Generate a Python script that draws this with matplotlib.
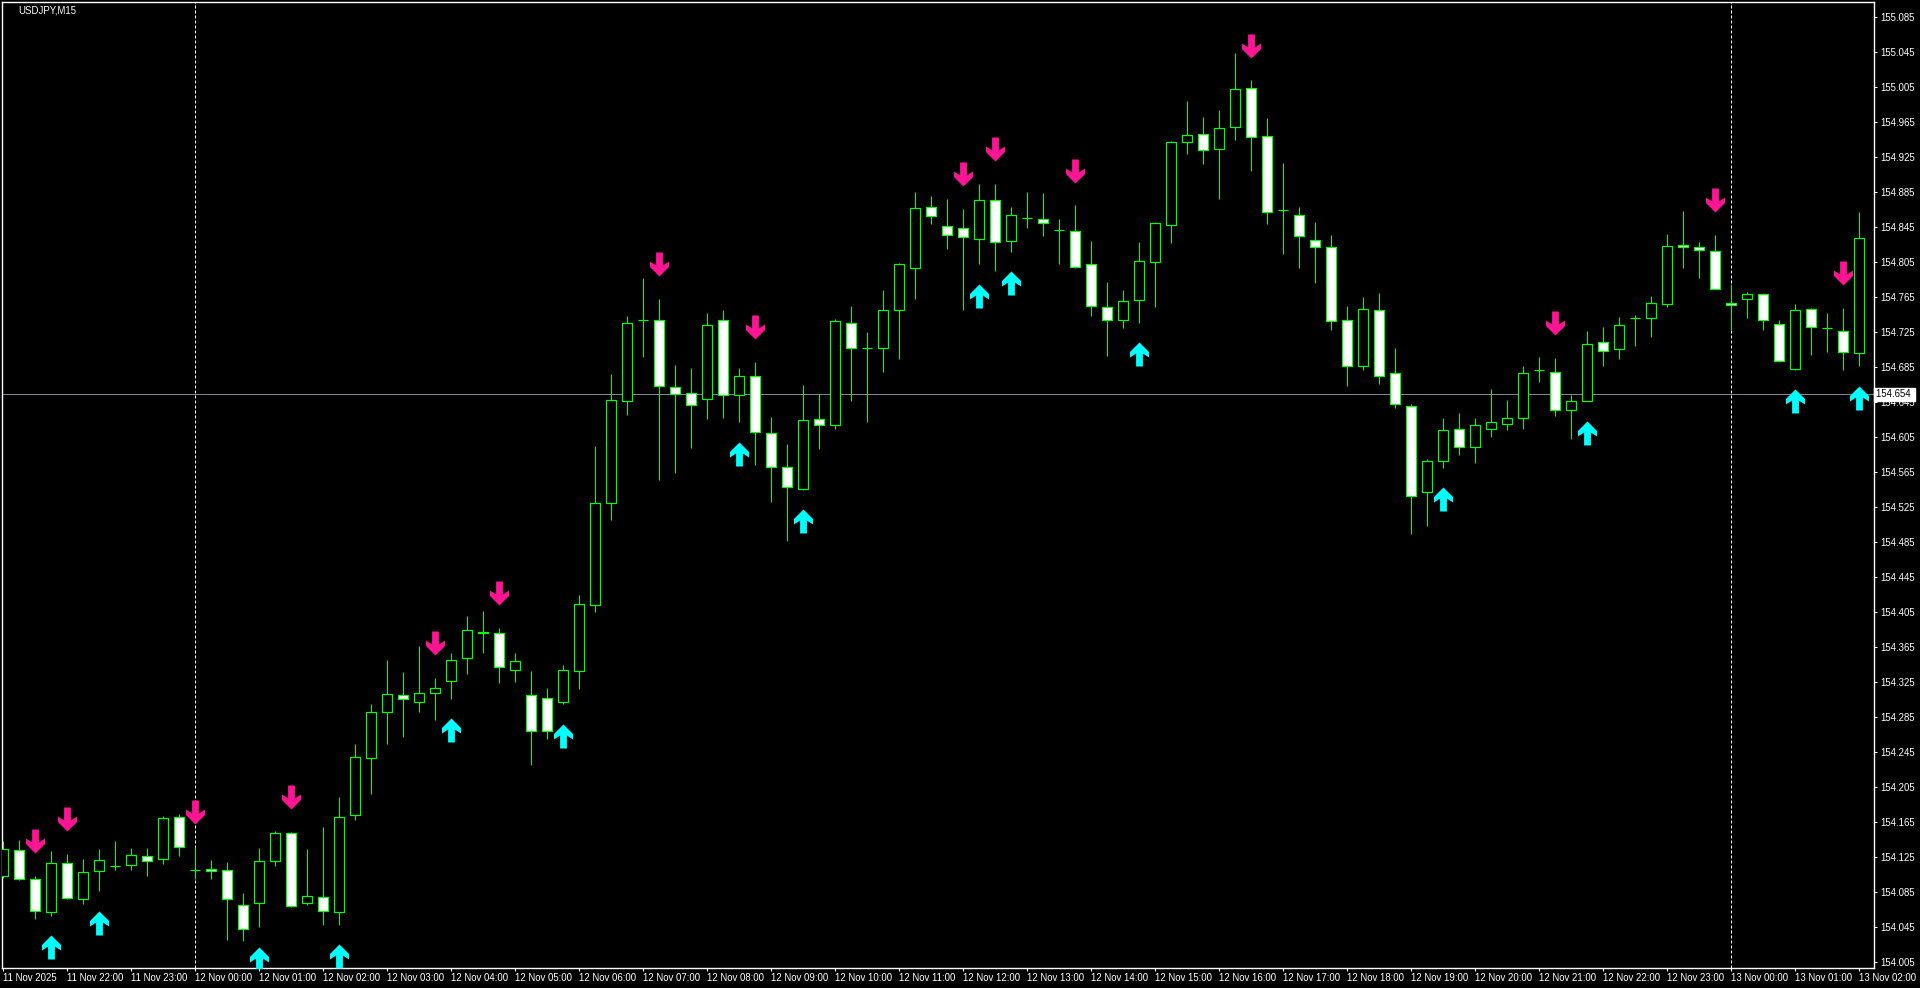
#!/usr/bin/python

from matplotlib import pyplot as plt
from matplotlib.path import Path
from matplotlib.transforms import ScaledTranslation, blended_transform_factory
import numpy as np
import pandas as pd

symbol = 'USDJPY,M15'
first_bar = '2025-11-11 21:00'
bid_price = 154.654

opens = [
  154.104, 154.133, 154.100, 154.063, 154.118, 154.077, 154.109, 154.115, 154.116, 154.127,
  154.123, 154.171, 154.111, 154.112, 154.111, 154.070, 154.073, 154.121, 154.153, 154.073,
  154.080, 154.063, 154.173, 154.239, 154.291, 154.310, 154.303, 154.313, 154.327, 154.353,
  154.383, 154.381, 154.339, 154.311, 154.307, 154.303, 154.338, 154.413, 154.530, 154.647,
  154.739, 154.739, 154.663, 154.656, 154.649, 154.739, 154.653, 154.675, 154.610, 154.571,
  154.546, 154.626, 154.619, 154.736, 154.707, 154.707, 154.750, 154.798, 154.868, 154.846,
  154.844, 154.832, 154.876, 154.829, 154.856, 154.855, 154.842, 154.841, 154.803, 154.754,
  154.739, 154.762, 154.805, 154.848, 154.942, 154.952, 154.935, 154.960, 155.004, 154.949,
  154.865, 154.859, 154.830, 154.823, 154.739, 154.687, 154.750, 154.678, 154.641, 154.542,
  154.578, 154.614, 154.594, 154.614, 154.620, 154.627, 154.682, 154.680, 154.636, 154.647,
  154.714, 154.706, 154.741, 154.741, 154.757, 154.825, 154.822, 154.818, 154.758, 154.763,
  154.769, 154.735, 154.683, 154.752, 154.730, 154.727, 154.701,
]
highs = [
  154.144, 154.145, 154.104, 154.132, 154.129, 154.123, 154.135, 154.144, 154.136, 154.136,
  154.172, 154.174, 154.137, 154.122, 154.120, 154.084, 154.136, 154.155, 154.154, 154.135,
  154.160, 154.194, 154.255, 154.300, 154.351, 154.337, 154.366, 154.330, 154.359, 154.401,
  154.406, 154.387, 154.359, 154.338, 154.318, 154.345, 154.425, 154.595, 154.677, 154.744,
  154.787, 154.763, 154.688, 154.684, 154.747, 154.750, 154.684, 154.691, 154.628, 154.597,
  154.665, 154.654, 154.740, 154.755, 154.725, 154.773, 154.804, 154.885, 154.881, 154.877,
  154.866, 154.894, 154.895, 154.868, 154.885, 154.884, 154.855, 154.870, 154.829, 154.783,
  154.773, 154.828, 154.851, 154.944, 154.989, 154.971, 154.979, 155.044, 155.013, 154.970,
  154.919, 154.868, 154.851, 154.836, 154.755, 154.765, 154.770, 154.707, 154.643, 154.580,
  154.627, 154.633, 154.627, 154.660, 154.648, 154.686, 154.697, 154.696, 154.653, 154.726,
  154.731, 154.742, 154.745, 154.767, 154.837, 154.864, 154.828, 154.836, 154.780, 154.771,
  154.770, 154.739, 154.757, 154.753, 154.747, 154.753, 154.862,
]
lows = [
  154.101, 154.099, 154.055, 154.058, 154.077, 154.072, 154.086, 154.111, 154.111, 154.104,
  154.117, 154.126, 154.100, 154.100, 154.030, 154.029, 154.045, 154.115, 154.068, 154.070,
  154.048, 154.048, 154.168, 154.197, 154.254, 154.263, 154.291, 154.282, 154.306, 154.335,
  154.358, 154.324, 154.325, 154.230, 154.260, 154.300, 154.317, 154.405, 154.511, 154.630,
  154.697, 154.556, 154.564, 154.593, 154.626, 154.627, 154.622, 154.573, 154.531, 154.487,
  154.545, 154.592, 154.615, 154.646, 154.623, 154.680, 154.695, 154.763, 154.849, 154.820,
  154.750, 154.803, 154.795, 154.817, 154.844, 154.835, 154.803, 154.799, 154.744, 154.698,
  154.730, 154.736, 154.754, 154.827, 154.929, 154.917, 154.877, 154.945, 154.909, 154.849,
  154.814, 154.799, 154.781, 154.728, 154.664, 154.682, 154.666, 154.639, 154.495, 154.504,
  154.570, 154.585, 154.576, 154.605, 154.613, 154.615, 154.668, 154.629, 154.603, 154.646,
  154.687, 154.694, 154.709, 154.720, 154.754, 154.799, 154.787, 154.774, 154.728, 154.741,
  154.728, 154.691, 154.682, 154.699, 154.703, 154.682, 154.686,
]
closes = [
  154.135, 154.100, 154.064, 154.119, 154.078, 154.108, 154.122, 154.115, 154.128, 154.121,
  154.170, 154.137, 154.111, 154.109, 154.077, 154.043, 154.121, 154.153, 154.069, 154.081,
  154.064, 154.171, 154.240, 154.291, 154.312, 154.306, 154.313, 154.319, 154.351, 154.385,
  154.381, 154.342, 154.349, 154.269, 154.269, 154.339, 154.415, 154.530, 154.648, 154.736,
  154.739, 154.664, 154.655, 154.642, 154.733, 154.653, 154.675, 154.611, 154.571, 154.548,
  154.625, 154.619, 154.738, 154.707, 154.707, 154.750, 154.803, 154.867, 154.858, 154.836,
  154.834, 154.876, 154.828, 154.859, 154.856, 154.850, 154.842, 154.800, 154.755, 154.739,
  154.761, 154.806, 154.850, 154.943, 154.951, 154.933, 154.958, 155.003, 154.948, 154.863,
  154.865, 154.835, 154.822, 154.738, 154.686, 154.752, 154.675, 154.643, 154.538, 154.578,
  154.613, 154.594, 154.619, 154.622, 154.627, 154.679, 154.682, 154.636, 154.646, 154.712,
  154.704, 154.733, 154.741, 154.758, 154.824, 154.822, 154.819, 154.774, 154.756, 154.769,
  154.739, 154.692, 154.751, 154.731, 154.730, 154.703, 154.833,
]

# bars marked by the signal indicator
sell_bars = [2, 4, 12, 18, 27, 31, 41, 47, 60, 62, 67, 78, 97, 107, 115]
buy_bars = [3, 6, 16, 21, 28, 35, 46, 50, 61, 63, 71, 90, 99, 112, 116]

LIME = '#00ff00'
PX = 0.72  # one pixel in points at 100 dpi

up_verts = [(0, 12), (9.5, 2.5), (9.5, -3), (3.4, 1), (3.4, -12),
            (-3.4, -12), (-3.4, 1), (-9.5, -3), (-9.5, 2.5), (0, 12)]
UP_ARROW = Path(up_verts, closed=True)
DOWN_ARROW = Path([(x, -y) for x, y in up_verts], closed=True)


def draw_candles(ax):
  o = np.array(opens)
  h = np.array(highs)
  l = np.array(lows)
  c = np.array(closes)
  idx = np.arange(len(o))

  ax.vlines(idx, l, h, color=LIME, lw=PX, zorder=2)
  bottom = np.minimum(o, c)
  height = np.abs(c - o)
  fill = ['white' if cl < op else 'black' for op, cl in zip(o, c)]
  ax.bar(idx, height, 0.6, bottom, color=fill, edgecolor=LIME,
         linewidth=PX * 1.2, zorder=3)


def draw_arrows(fig, ax):
  h = np.array(highs)
  l = np.array(lows)
  above = ax.transData + ScaledTranslation(0, 0.347, fig.dpi_scale_trans)
  below = ax.transData + ScaledTranslation(0, -0.315, fig.dpi_scale_trans)
  ax.plot(sell_bars, h[sell_bars], ls='none', marker=DOWN_ARROW,
          ms=24 * PX, mew=0, color='#ff1493', transform=above, zorder=4)
  ax.plot(buy_bars, l[buy_bars], ls='none', marker=UP_ARROW,
          ms=24 * PX, mew=0, color='#00ffff', transform=below, zorder=4)


def main():
  plt.rcParams['font.family'] = ['Liberation Sans', 'DejaVu Sans']

  fig = plt.figure(figsize=(19.2, 9.88), dpi=100, facecolor='black')
  ax = fig.add_axes([2 / 1920, 1 - 968 / 988, 1872 / 1920, 966 / 988])
  ax.set_facecolor('black')

  times = pd.date_range(first_bar, periods=len(opens), freq='15min')

  # day separators and bid line
  for i, t in enumerate(times):
    if t.hour == 0 and t.minute == 0:
      ax.axvline(i, color='white', lw=PX, ls=(0, (3, 2)), zorder=1)
  ax.axhline(bid_price, color='#778899', lw=PX, zorder=1)

  draw_candles(ax)
  draw_arrows(fig, ax)

  ax.set_xlim(-0.08, len(opens) - 0.08)
  ax.set_ylim(153.9985, 155.1025)

  for s in ax.spines.values():
    s.set_color('white')
    s.set_linewidth(1.0)

  ax.yaxis.tick_right()
  yt = np.arange(154.005, 155.09, 0.04)
  ax.set_yticks(yt)
  ax.set_yticklabels(['%.3f' % v for v in yt])

  xt = list(range(0, len(times), 4))
  xl = []
  for i in xt:
    t = times[i]
    if i == 0:
      xl.append(f'{t.day} {t:%b %Y}')
    else:
      xl.append(f'{t.day} {t:%b %H:%M}')
  ax.set_xticks(xt)
  ax.set_xticklabels(xl, ha='left')

  ax.tick_params(axis='both', colors='white', labelsize=6.9, width=PX,
                 length=2.2)
  ax.tick_params(axis='y', pad=2.4)
  ax.tick_params(axis='x', pad=1.2)

  trans = blended_transform_factory(ax.transAxes, ax.transData)
  ax.text(1.0012, bid_price, '%.3f ' % bid_price, transform=trans,
          color='black', fontsize=6.9, va='center', ha='left',
          bbox=dict(boxstyle='square,pad=0.2', fc='white', ec='white'),
          zorder=5, clip_on=False)

  fig.text(18 / 1920, 1 - 10.5 / 988, symbol, color='white', fontsize=6.9,
           va='center', ha='left')

  fig.savefig('out.png', dpi=100, facecolor='black')


if __name__ == '__main__':
  main()
